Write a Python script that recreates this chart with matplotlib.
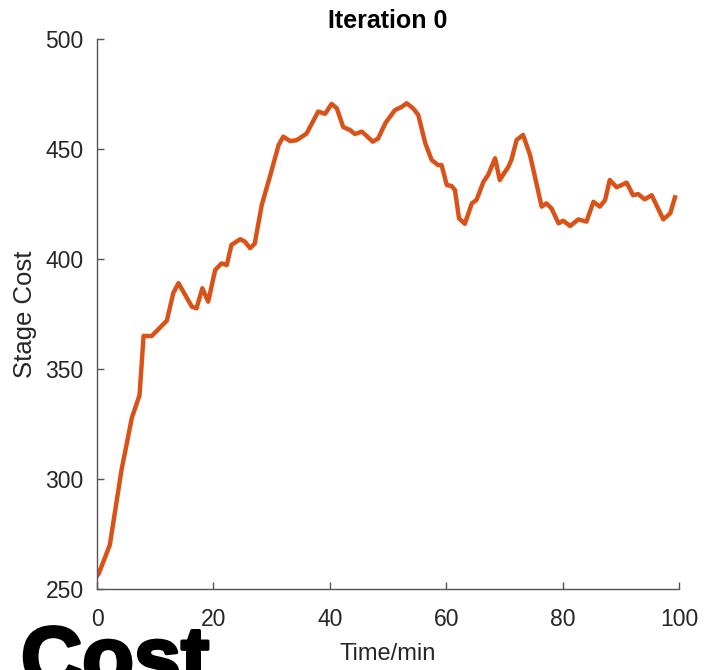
import matplotlib.pyplot as plt
import matplotlib.patheffects as pe

plt.rcParams['font.family'] = ['Liberation Sans', 'DejaVu Sans']

# stage cost over time, first iteration
time_min = [0, 0.3, 2.2, 4.2, 6.0, 7.3, 8.0, 9.4, 12.0, 13.1, 14.0, 16.3, 17.1, 18.1,
            19.1, 20.3, 21.4, 22.3, 23.1, 24.6, 25.4, 26.3, 27.1, 28.3, 29.7, 31.2,
            32.0, 33.2, 34.3, 36.0, 38.0, 39.2, 40.3, 41.2, 42.3, 43.5, 44.3, 45.5,
            46.3, 47.4, 48.3, 49.6, 51.2, 52.4, 53.2, 54.3, 55.2, 56.4, 57.5, 58.6,
            59.2, 60.1, 60.9, 61.5, 62.2, 63.2, 64.4, 65.2, 66.4, 67.2, 68.4, 69.2,
            70.7, 71.2, 72.1, 73.2, 74.4, 76.4, 77.2, 78.1, 79.3, 80.1, 81.3, 82.7,
            84.1, 85.3, 86.4, 87.3, 88.1, 89.3, 91.0, 92.1, 93.0, 94.1, 95.3, 97.3,
            98.5, 99.3]
stage_cost = [256, 257, 270, 304, 328, 338, 365, 365, 372, 384.5, 389, 378.3, 377.6, 386.7,
              380.6, 395, 398, 397.3, 406.4, 409, 407.9, 404.9, 407, 424.5, 437.4, 451.8,
              455.6, 453.6, 454, 457, 467, 466, 470.5, 468.5, 460, 458.6, 456.8, 457.9,
              456, 453.3, 454.8, 462, 467.7, 469.2, 470.8, 468.5, 465.5, 452.6, 445, 442.7,
              442.7, 433.6, 433.2, 431.4, 418.5, 416, 425.3, 426.8, 435.1, 438.2, 445.8, 435.9,
              442, 445, 454.1, 456.4, 447.3, 423.8, 425.3, 423, 416.2, 417.4, 415, 418,
              417, 426, 423.8, 426.8, 435.9, 432.6, 434.7, 429, 429.5, 427.1, 429, 418,
              420.8, 428]

fig = plt.figure(figsize=(7.04, 6.7), dpi=100)
ax = fig.add_axes([0.1378, 0.1209, 0.8267, 0.8209])

ax.plot(time_min, stage_cost, color='#D95319', linewidth=3.2, solid_joinstyle='round')

ax.set_xlim(0, 100)
ax.set_ylim(250, 500)
ax.set_xticks([0, 20, 40, 60, 80, 100])
ax.set_yticks([250, 300, 350, 400, 450, 500])

for side in ['top', 'right']:
    ax.spines[side].set_visible(False)
for side in ['left', 'bottom']:
    ax.spines[side].set_color('#555555')
    ax.spines[side].set_linewidth(1.0)
ax.tick_params(direction='in', length=5, width=1, color='#555555',
               labelcolor='#262626', labelsize=16.5)
ax.tick_params(axis='x', pad=14)
ax.tick_params(axis='y', pad=9.5)

ax.set_xlabel('Time/min', fontsize=17, color='#262626', labelpad=8)
ax.set_ylabel('Stage Cost', fontsize=18.5, color='#262626', labelpad=6)
ax.set_title('Iteration 0', fontsize=18, fontweight='bold', color='black', pad=8)

# heavy caption along the bottom edge
fig.text(21 / 704, 1 - 686 / 670, 'Cost', fontsize=61, fontweight='bold',
         color='black', ha='left', va='baseline',
         path_effects=[pe.withStroke(linewidth=2.5, foreground='black')])

fig.savefig('out.png', dpi=100)
